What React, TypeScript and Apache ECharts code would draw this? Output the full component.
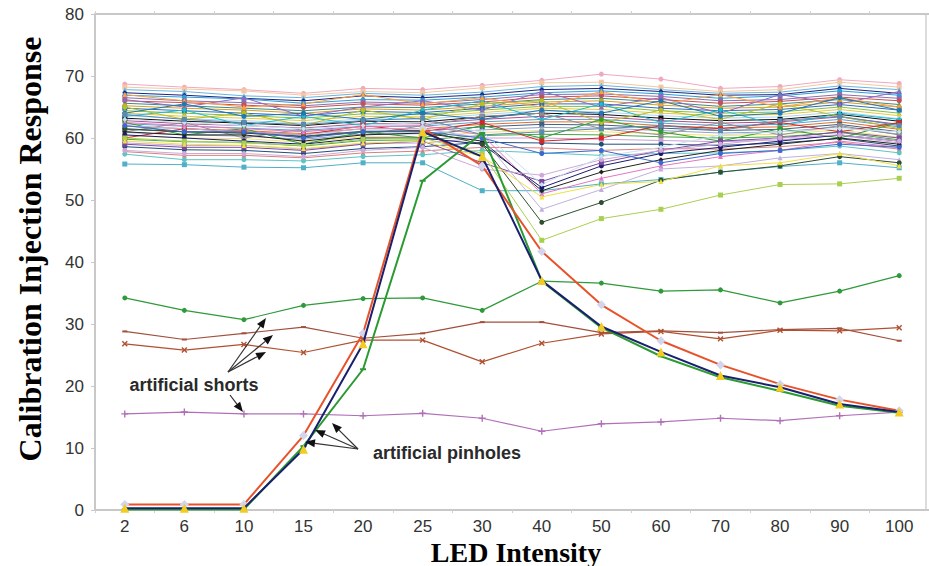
import React, { useEffect, useRef } from "react";
import * as echarts from "echarts";

const categories = ["2", "6", "10", "15", "20", "25", "30", "40", "50", "60", "70", "80", "90", "100"];
const yTicks = { min: 0, max: 80, interval: 10 };

// Artificial shorts
const shortGreen = [34.2, 32.2, 30.7, 33.0, 34.1, 34.2, 32.2, 36.9, 36.6, 35.3, 35.5, 33.4, 35.3, 37.8];
const shortBrownA = [28.8, 27.5, 28.5, 29.5, 27.7, 28.5, 30.3, 30.3, 28.6, 28.9, 28.6, 29.1, 29.3, 27.3];
const shortBrownB = [26.8, 25.8, 26.7, 25.4, 27.4, 27.4, 23.9, 26.9, 28.4, 28.8, 27.6, 29.0, 28.9, 29.4];
const shortPurple = [15.5, 15.8, 15.5, 15.5, 15.2, 15.6, 14.8, 12.7, 13.9, 14.2, 14.8, 14.4, 15.2, 15.8];

// Artificial pinholes
const pinholeOrange = [0.9, 0.9, 0.9, 12.0, 28.5, 61.5, 55.5, 41.7, 33.1, 27.3, 23.4, 20.3, 17.8, 16.0];
const pinholeNavy = [0.3, 0.3, 0.3, 9.8, 26.8, 61.0, 57.0, 37.0, 29.6, 25.5, 21.7, 19.8, 17.1, 15.8];
const pinholeGreen = [0.1, 0.1, 0.1, 10.3, 22.7, 53.1, 60.8, 36.9, 29.4, 24.8, 21.4, 19.2, 16.8, 15.7];

// Normal pixels (bundle around 55-70)
const bundleLines: number[][] = [
  [68.7, 68.2, 67.8, 67.2, 68.0, 67.8, 68.5, 69.3, 70.3, 69.5, 68.0, 68.3, 69.4, 68.8],
  [68.2, 67.9, 67.6, 66.9, 67.5, 67.3, 68.1, 68.9, 69.0, 68.2, 67.5, 67.8, 69.0, 68.2],
  [67.8, 67.5, 66.8, 66.5, 67.2, 66.9, 67.4, 68.3, 68.5, 67.8, 67.2, 67.4, 68.4, 67.8],
  [67.3, 66.9, 66.4, 66.0, 66.8, 66.5, 67.0, 67.8, 68.0, 67.5, 66.9, 67.0, 68.0, 67.2],
  [66.9, 66.6, 66.3, 65.6, 66.2, 66.1, 66.6, 67.3, 67.6, 67.1, 66.4, 66.8, 67.6, 66.9],
  [66.5, 66.0, 65.7, 65.2, 65.8, 65.6, 66.2, 67.0, 67.1, 66.7, 66.0, 66.2, 67.0, 66.4],
  [66.0, 65.7, 65.3, 64.9, 65.5, 65.3, 65.8, 66.6, 66.8, 66.2, 65.6, 65.9, 66.6, 66.0],
  [65.6, 65.2, 64.8, 64.4, 65.0, 64.9, 65.5, 66.2, 66.4, 65.8, 65.1, 65.5, 66.2, 65.4],
  [65.2, 64.8, 64.5, 64.0, 64.7, 64.5, 65.1, 65.8, 66.0, 65.3, 64.8, 65.0, 65.8, 65.0],
  [64.8, 64.4, 64.0, 63.6, 64.3, 64.1, 64.8, 65.5, 65.5, 64.8, 64.4, 64.6, 65.4, 64.5],
  [64.4, 64.0, 63.6, 63.2, 63.9, 63.8, 64.5, 65.1, 65.1, 64.4, 64.0, 64.2, 65.0, 64.0],
  [64.0, 63.5, 63.2, 62.8, 63.5, 63.4, 64.1, 64.8, 64.6, 64.0, 63.6, 63.8, 64.6, 63.6],
  [63.6, 63.1, 62.8, 62.4, 63.1, 63.0, 63.8, 64.4, 64.2, 63.6, 63.2, 63.4, 64.2, 63.1],
  [63.2, 62.7, 62.4, 62.0, 62.7, 62.6, 63.4, 64.0, 63.8, 63.2, 62.8, 63.0, 63.8, 62.7],
  [62.8, 62.3, 62.0, 61.6, 62.3, 62.3, 63.0, 63.5, 63.4, 62.8, 62.4, 62.6, 63.4, 62.2],
  [62.3, 61.9, 61.6, 61.2, 61.9, 61.9, 62.6, 63.0, 63.0, 62.4, 62.0, 62.2, 63.0, 61.8],
  [61.9, 61.5, 61.2, 60.7, 61.5, 61.5, 62.2, 62.6, 62.6, 62.0, 61.6, 61.8, 62.6, 61.4],
  [61.4, 61.0, 60.8, 60.3, 61.1, 61.1, 61.8, 62.2, 62.1, 61.6, 61.2, 61.4, 62.2, 61.0],
  [60.9, 60.5, 60.3, 59.8, 60.6, 60.7, 61.3, 61.7, 61.6, 61.2, 60.8, 61.0, 61.8, 60.6],
  [60.4, 60.0, 59.9, 59.3, 60.2, 60.2, 60.9, 61.2, 61.0, 60.7, 60.4, 60.6, 61.3, 60.1],
  [59.8, 59.4, 59.3, 58.7, 59.6, 59.7, 60.4, 60.6, 60.5, 60.2, 60.0, 60.2, 60.9, 59.7],
  [59.2, 58.8, 58.8, 58.2, 59.1, 59.2, 60.0, 60.0, 59.8, 59.6, 59.4, 59.7, 60.4, 59.2],
  [58.6, 58.1, 58.0, 57.5, 58.3, 58.6, 59.3, 59.2, 59.0, 59.0, 58.8, 59.2, 59.9, 58.7],
  [57.8, 57.2, 57.2, 56.8, 57.6, 57.9, 58.5, 58.4, 58.0, 58.3, 58.2, 58.6, 59.3, 58.2],
  [57.4, 56.5, 56.5, 56.3, 57.0, 57.3, 58.0, 57.6, 57.2, 57.5, 57.6, 58.0, 58.7, 57.6],
  [55.8, 55.7, 55.3, 55.2, 56.0, 56.0, 51.5, 51.5, 52.6, 53.3, 54.5, 55.4, 56.0, 55.2],
  [66.2, 65.0, 66.5, 63.5, 65.0, 66.0, 64.5, 67.5, 65.0, 66.5, 64.0, 67.0, 65.5, 67.5],
  [63.5, 64.5, 62.0, 63.5, 62.0, 64.5, 66.0, 63.0, 65.5, 62.5, 64.5, 62.0, 64.0, 63.0],
  [65.0, 63.0, 64.0, 62.0, 64.5, 63.0, 65.5, 66.0, 62.5, 64.5, 63.0, 65.5, 63.5, 61.5],
  [61.0, 62.5, 60.0, 61.5, 60.5, 62.0, 63.5, 64.0, 61.5, 60.5, 62.5, 60.5, 62.0, 60.5],
  [62.5, 60.5, 61.5, 59.0, 61.0, 60.0, 62.0, 60.0, 63.0, 61.0, 59.5, 61.5, 60.0, 62.5],
  [67.0, 66.0, 65.0, 65.5, 67.0, 65.5, 66.5, 65.0, 67.5, 65.5, 67.0, 65.0, 66.5, 65.0],
  [64.0, 65.5, 63.5, 64.0, 63.0, 64.0, 63.0, 64.5, 64.0, 66.0, 63.5, 64.0, 66.5, 64.5],
  [60.0, 61.5, 61.0, 60.5, 62.0, 61.0, 62.5, 59.5, 60.0, 62.0, 61.5, 62.5, 61.0, 62.5],
  [62.5, 62.0, 61.5, 61.0, 61.8, 62.0, 60.5, 51.0, 53.5, 55.5, 57.0, 58.0, 59.5, 58.5],
  [61.0, 60.5, 60.5, 59.5, 60.5, 60.8, 59.5, 51.5, 54.5, 56.5, 58.0, 59.0, 60.0, 59.0],
  [60.5, 60.0, 59.5, 59.0, 60.0, 60.0, 59.0, 52.0, 55.5, 57.5, 58.5, 59.5, 60.5, 59.5],
  [59.0, 58.5, 58.5, 58.0, 59.0, 59.5, 56.0, 53.0, 56.0, 58.0, 59.5, 60.0, 61.0, 60.0],
  [58.0, 57.5, 57.5, 57.0, 58.0, 58.5, 55.0, 54.0, 56.5, 58.0, 59.0, 60.0, 60.5, 59.5],
  [62.0, 61.5, 61.0, 60.5, 61.5, 61.5, 60.0, 48.5, 51.7, 55.0, 55.5, 56.8, 57.5, 56.5],
  [61.5, 61.0, 60.8, 60.2, 61.0, 61.2, 59.0, 46.4, 49.6, 53.2, 54.5, 55.5, 57.0, 56.0],
  [60.0, 59.5, 59.2, 58.8, 59.8, 60.0, 57.5, 43.5, 47.0, 48.5, 50.8, 52.5, 52.6, 53.5],
  [59.5, 59.0, 58.8, 58.3, 59.2, 59.5, 57.0, 50.5, 52.5, 53.0, 55.5, 56.0, 57.5, 55.5],
  [63.0, 62.5, 62.0, 61.5, 62.0, 62.5, 61.0, 52.5, 57.0, 58.5, 60.5, 61.0, 61.5, 61.0],
  [62.0, 61.0, 61.0, 60.0, 61.0, 61.0, 60.0, 57.5, 58.0, 56.0, 57.5, 58.0, 59.0, 58.5],
  [63.8, 63.0, 62.5, 62.2, 62.8, 63.2, 60.5, 61.0, 61.5, 62.0, 61.2, 62.8, 63.5, 62.0],
];

const bundleColors = [
  "#f0a8c0", "#f2c8a0", "#69b4e2", "#1a237e", "#2a9fd8", "#8a6fb0", "#c85050", "#3a8a8a",
  "#d4a020", "#2f6db5", "#7fbf3f", "#e6c840", "#a8d4f0", "#111111", "#a85090", "#5aa0d0",
  "#e07030", "#406080", "#90a0c8", "#f2e070", "#47a447", "#c8a0d8", "#1f4e79", "#d88080",
  "#5ec4c4", "#4fb0c6", "#9467bd", "#17becf", "#bcbd22", "#8f8f8f", "#2ca02c", "#ff9f3e",
  "#1f77b4", "#d62728", "#e377c2", "#222222", "#1a1a70", "#7a4aa0", "#d0a8d8", "#c0b0e0",
  "#2f4f2f", "#a8d050", "#f0e040", "#c8e0f0", "#3a6ad0", "#5a8ab0", "#f0c020",
];
const bundleSymbols = ["circle", "rect", "triangle", "diamond", "circle", "rect", "circle", "triangle"];

const shortColors = { green: "#2f9a3a", brownA: "#a0503c", brownB: "#b05030", purple: "#b070b8" };
const pinholeColors = { orange: "#e8522a", navy: "#1a1f6e", green: "#2a9a32" };

const plusPath = "path://M4,0H6V4H10V6H6V10H4V6H0V4H4Z";

function arrow(x1: number, y1: number, x2: number, y2: number) {
  const ang = Math.atan2(y2 - y1, x2 - x1);
  const len = 10;
  const w = 4;
  const bx = x2 - len * Math.cos(ang);
  const by = y2 - len * Math.sin(ang);
  const px = -Math.sin(ang) * w;
  const py = Math.cos(ang) * w;
  return [
    { type: "line", shape: { x1, y1, x2: bx, y2: by }, style: { stroke: "#333", lineWidth: 1.2 }, z: 100 },
    {
      type: "polygon",
      shape: { points: [[x2, y2], [bx + px, by + py], [bx - px, by - py]] },
      style: { fill: "#111" },
      z: 100,
    },
  ];
}

export default function App() {
  const ref = useRef<HTMLDivElement>(null);
  useEffect(() => {
    if (!ref.current) return;
    const chart = echarts.init(ref.current, undefined, { renderer: "svg" });

    const series: any[] = bundleLines.map((vals, i) => ({
      type: "line",
      data: vals,
      symbol: bundleSymbols[i % bundleSymbols.length],
      symbolSize: 5,
      lineStyle: { width: 1, color: bundleColors[i % bundleColors.length] },
      itemStyle: { color: bundleColors[i % bundleColors.length] },
      z: 2,
    }));

    series.push(
      {
        type: "line", data: shortGreen, symbol: "circle", symbolSize: 5,
        lineStyle: { width: 1.2, color: shortColors.green }, itemStyle: { color: shortColors.green }, z: 3,
      },
      {
        type: "line", data: shortBrownA, symbol: "rect", symbolSize: [5, 2],
        lineStyle: { width: 1.2, color: shortColors.brownA }, itemStyle: { color: shortColors.brownA }, z: 3,
      },
      {
        type: "line", data: shortBrownB, symbol: plusPath, symbolRotate: 45, symbolSize: 7,
        lineStyle: { width: 1.2, color: shortColors.brownB }, itemStyle: { color: shortColors.brownB }, z: 3,
      },
      {
        type: "line", data: shortPurple, symbol: plusPath, symbolSize: 7,
        lineStyle: { width: 1.2, color: shortColors.purple }, itemStyle: { color: shortColors.purple }, z: 3,
      },
      {
        type: "line", data: pinholeGreen, symbol: "rect", symbolSize: [6, 2],
        lineStyle: { width: 2, color: pinholeColors.green }, itemStyle: { color: pinholeColors.green }, z: 4,
      },
      {
        type: "line", data: pinholeOrange, symbol: "diamond", symbolSize: 9,
        lineStyle: { width: 2, color: pinholeColors.orange }, itemStyle: { color: "#d4d4ec" }, z: 4,
      },
      {
        type: "line", data: pinholeNavy, symbol: "triangle", symbolSize: 9,
        lineStyle: { width: 2, color: pinholeColors.navy }, itemStyle: { color: "#f2cc22" }, z: 5,
      }
    );

    const graphics: any[] = [
      {
        type: "text", x: 30, y: 249, rotation: Math.PI / 2,
        style: {
          text: "Calibration Injection Response", fill: "#000",
          font: "bold 32px 'Liberation Serif', 'Times New Roman', serif",
          textAlign: "center", textVerticalAlign: "middle",
        },
      },
      {
        type: "text", x: 516, y: 566,
        style: {
          text: "LED Intensity", fill: "#000",
          font: "bold 28px 'Liberation Serif', 'Times New Roman', serif",
          textAlign: "center", textVerticalAlign: "bottom",
        },
      },
      {
        type: "text", x: 194, y: 385, z: 100,
        style: {
          text: "artificial shorts", fill: "#2a2a2a",
          font: "bold 18px 'Liberation Sans', Arial, sans-serif",
          textAlign: "center", textVerticalAlign: "middle",
        },
      },
      {
        type: "text", x: 447, y: 453, z: 100,
        style: {
          text: "artificial pinholes", fill: "#2a2a2a",
          font: "bold 18px 'Liberation Sans', Arial, sans-serif",
          textAlign: "center", textVerticalAlign: "middle",
        },
      },
      { type: "line", shape: { x1: 926, y1: 14, x2: 926, y2: 510 }, style: { stroke: "#d0d0d0", lineWidth: 1.5 } },
      ...arrow(228, 372, 266, 318),
      ...arrow(228, 372, 273, 335),
      ...arrow(228, 372, 266, 352),
      ...arrow(230, 395, 243, 412),
      ...arrow(358, 449, 305, 442),
      ...arrow(358, 449, 315, 430),
      ...arrow(358, 449, 332, 423),
    ];

    chart.setOption({
      animation: false,
      backgroundColor: "#ffffff",
      grid: { left: 95, top: 14, width: 838, height: 496, containLabel: false },
      xAxis: [
        {
          type: "category",
          data: categories,
          boundaryGap: true,
          axisLine: { show: true, lineStyle: { color: "#c8c8c8", width: 2 } },
          axisTick: { show: true, length: 3, lineStyle: { color: "#d0d0d0" } },
          axisLabel: {
            color: "#333", fontSize: 17, lineHeight: 17, margin: 8,
            fontFamily: "'Liberation Sans', Arial, sans-serif",
          },
          splitLine: { show: false },
        },
        {
          type: "category",
          data: categories,
          position: "top",
          boundaryGap: true,
          axisLine: { show: true, lineStyle: { color: "#c8c8c8", width: 2 } },
          axisTick: { show: true, length: 3, lineStyle: { color: "#d0d0d0" } },
          axisLabel: { show: false },
          splitLine: { show: false },
        },
      ],
      yAxis: {
        type: "value",
        min: yTicks.min,
        max: yTicks.max,
        interval: yTicks.interval,
        axisLine: { show: true, lineStyle: { color: "#c8c8c8", width: 2 } },
        axisTick: { show: true, length: 4, lineStyle: { color: "#c8c8c8" } },
        axisLabel: {
          color: "#333", fontSize: 17, margin: 11,
          fontFamily: "'Liberation Sans', Arial, sans-serif",
        },
        splitLine: { show: false },
      },
      series,
      graphic: graphics,
    });

    return () => chart.dispose();
  }, []);

  return (
    <div
      ref={ref}
      style={{ position: "fixed", left: 0, top: 0, width: 929, height: 566, background: "#fff" }}
    />
  );
}
